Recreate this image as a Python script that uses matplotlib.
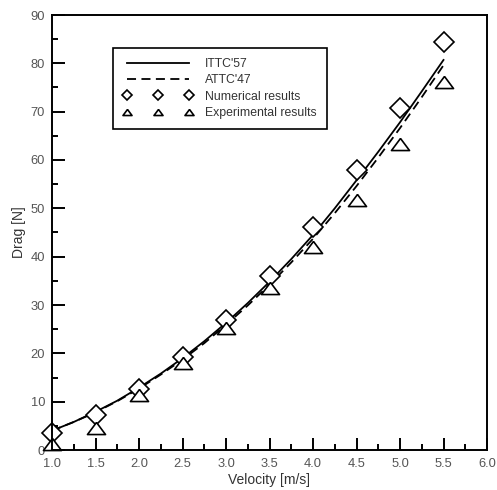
import matplotlib
matplotlib.use("Agg")
import matplotlib.pyplot as plt
from matplotlib.ticker import MultipleLocator

# drag vs. towing speed
velocity = [1.0, 1.5, 2.0, 2.5, 3.0, 3.5, 4.0, 4.5, 5.0, 5.5]
drag_numerical = [3.5, 7.3, 12.7, 19.2, 27.0, 36.0, 46.2, 57.9, 70.7, 84.5]
drag_experimental = [1.2, 4.5, 11.4, 18.0, 25.2, 33.5, 42.0, 51.7, 63.4, 76.2]

# friction-line estimates
velocity_line = [1.0, 1.25, 1.5, 1.75, 2.0, 2.25, 2.5, 2.75, 3.0, 3.25,
                 3.5, 3.75, 4.0, 4.25, 4.5, 4.75, 5.0, 5.25, 5.5]
drag_ittc57 = [4.0, 5.8, 7.9, 10.2, 12.9, 15.8, 19.0, 22.5, 26.3, 30.4,
               34.8, 39.5, 44.5, 50.0, 55.8, 61.7, 67.8, 74.2, 80.7]
drag_attc47 = [4.0, 5.8, 7.8, 10.1, 12.7, 15.6, 18.7, 22.1, 25.9, 29.9,
               34.2, 38.8, 43.7, 49.0, 54.6, 60.5, 66.6, 73.0, 79.6]

# flat open triangle
tri = [(0, 0.67), (-1, -0.67), (1, -0.67), (0, 0.67)]

plt.rcParams["font.family"] = ["Liberation Sans", "DejaVu Sans"]

fig = plt.figure(figsize=(4.97, 4.90), dpi=100)
ax = fig.add_axes([52 / 497, 40 / 490, 435 / 497, 435 / 490])

ax.plot(velocity_line, drag_ittc57, color="black", lw=1.3, label="ITTC'57")
ax.plot(velocity_line, drag_attc47, color="black", lw=1.3, ls=(0, (5, 3)), label="ATTC'47")
ax.plot(velocity, drag_numerical, ls="none", marker="D", ms=10.5, mfc="white",
        mec="black", mew=1.2, label="Numerical results", clip_on=False)
ax.plot(velocity, drag_experimental, ls="none", marker=tri, ms=13, mfc="white",
        mec="black", mew=1.2, label="Experimental results", clip_on=False)

ax.set_xlim(1.0, 6.0)
ax.set_ylim(0, 90)
ax.xaxis.set_major_locator(MultipleLocator(0.5))
ax.xaxis.set_minor_locator(MultipleLocator(0.25))
ax.yaxis.set_major_locator(MultipleLocator(10))
ax.yaxis.set_minor_locator(MultipleLocator(5))
ax.xaxis.set_major_formatter(plt.FormatStrFormatter("%.1f"))

ax.tick_params(which="both", direction="in", top=False, right=False,
               width=1.4, colors="black", labelcolor="#555555", labelsize=9.3)
ax.tick_params(which="major", length=9)
ax.tick_params(which="minor", length=4.5)
ax.tick_params(axis="x", pad=5.5)
ax.tick_params(axis="y", pad=5)
for side in ax.spines.values():
    side.set_linewidth(1.4)

ax.set_xlabel("Velocity [m/s]", fontsize=10, color="#333333", labelpad=2.5)
ax.set_ylabel("Drag [N]", fontsize=10, color="#333333", labelpad=3)

leg = ax.legend(loc="upper left", bbox_to_anchor=(0.14, 0.925), numpoints=3,
                fontsize=8.8, fancybox=False, edgecolor="black", framealpha=1,
                handlelength=5.7, handletextpad=1.0, labelspacing=0.35,
                borderpad=0.85, borderaxespad=0, markerscale=0.5)
leg.get_frame().set_linewidth(1.2)
for t in leg.get_texts():
    t.set_color("#333333")

fig.savefig("out.png", dpi=100)
